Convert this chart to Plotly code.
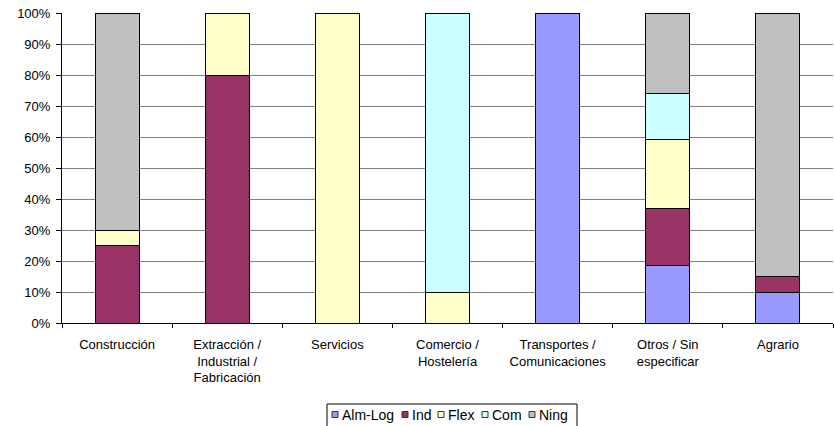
import plotly.graph_objects as go

categories = [
    "Construcción",
    "Extracción /<br>Industrial /<br>Fabricación",
    "Servicios",
    "Comercio /<br>Hostelería",
    "Transportes /<br>Comunicaciones",
    "Otros / Sin<br>especificar",
    "Agrario",
]

alm_log = [0, 0, 0, 0, 100, 18.5, 10]
ind = [25, 80, 0, 0, 0, 18.5, 5]
flex = [5, 20, 100, 10, 0, 22.2, 0]
com = [0, 0, 0, 90, 0, 14.8, 0]
ning = [70, 0, 0, 0, 0, 26.0, 85]

series_names = ["Alm-Log", "Ind", "Flex", "Com", "Ning"]
series_values = [alm_log, ind, flex, com, ning]
series_colors = ["#9999FF", "#993366", "#FFFFCC", "#CCFFFF", "#C0C0C0"]

W, H = 834, 426
ML, MR, MT, MB = 62, 1, 13, 103
PW, PH = W - ML - MR, H - MT - MB

font = dict(family="Liberation Sans, Arial, sans-serif", size=13, color="black")

fig = go.Figure()
for name, vals, color in zip(series_names, series_values, series_colors):
    fig.add_trace(go.Bar(
        x=categories, y=vals, name=name,
        marker=dict(color=color, line=dict(color="black", width=1)),
        width=0.4, showlegend=False,
    ))


def px_x(px):
    return (px - ML) / PW


def px_y(py):
    return (H - MB - py) / PH


# Compact boxed legend below the chart: small square swatch followed by its name
legend_font = dict(family="Liberation Sans, Arial, sans-serif", size=14, color="black")
approx_text_w = {"Alm-Log": 53, "Ind": 19, "Flex": 27, "Com": 30, "Ning": 29}
sq = 6
box_left, box_right, box_top = 327, 577, 404
cy = 414.5
shapes = [dict(type="rect", xref="paper", yref="paper",
               x0=px_x(box_left), x1=px_x(box_right),
               y0=px_y(box_top), y1=px_y(H + 4),
               line=dict(color="black", width=1), fillcolor="white", layer="below")]
annotations = []
x = 332
for name, color in zip(series_names, series_colors):
    shapes.append(dict(type="rect", xref="paper", yref="paper",
                       x0=px_x(x), x1=px_x(x + sq),
                       y0=px_y(cy + sq / 2), y1=px_y(cy - sq / 2),
                       line=dict(color="#333333", width=1), fillcolor=color))
    tx = x + sq + 3
    annotations.append(dict(xref="paper", yref="paper", x=px_x(tx), y=px_y(cy),
                            xanchor="left", yanchor="middle", text=name,
                            showarrow=False, font=legend_font,
                            xshift=0, borderpad=0))
    x = tx + approx_text_w[name] + 8

fig.update_layout(
    barmode="stack",
    width=W, height=H,
    margin=dict(l=ML, r=MR, t=MT, b=MB),
    paper_bgcolor="white", plot_bgcolor="white",
    font=font,
    showlegend=False,
    shapes=shapes,
    annotations=annotations,
    xaxis=dict(
        showline=True, linecolor="black", linewidth=1,
        ticks="outside", tickson="boundaries", ticklen=4, tickcolor="black",
        showgrid=False, tickfont=font, ticklabelstandoff=9,
    ),
    yaxis=dict(
        range=[0, 100], dtick=10, ticksuffix="%",
        showline=True, linecolor="black", linewidth=1,
        ticks="outside", ticklen=5, tickcolor="black",
        showgrid=True, gridcolor="#808080", gridwidth=1,
        zeroline=False, tickfont=font, ticklabelstandoff=3,
    ),
)

fig.write_html("out.html")
